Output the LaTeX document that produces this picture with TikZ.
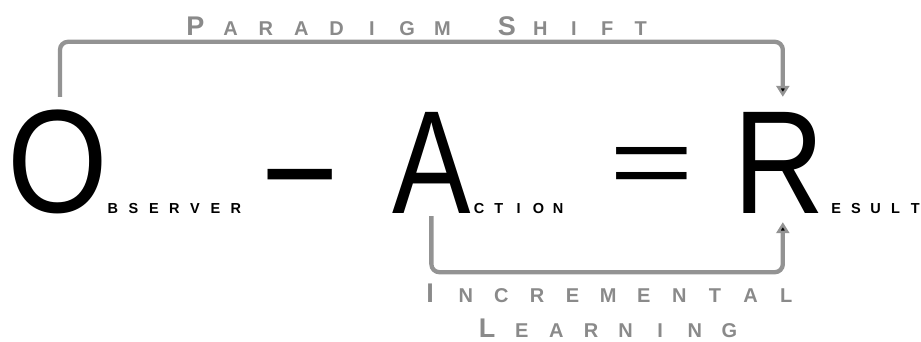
\documentclass[tikz,border=0pt]{standalone}
\usepackage{fontspec}
\setmainfont{Liberation Sans}
\usetikzlibrary{arrows.meta}

\definecolor{linkgray}{RGB}{147,147,147}
\definecolor{labelgray}{RGB}{138,138,138}

% letters set in boxes of equal width
\makeatletter
\newcommand\spread[2]{\def\spread@step{#1}\spread@next#2\@nil}
\def\spread@next#1{\ifx#1\@nil\else\makebox[\spread@step]{#1}\expandafter\spread@next\fi}
\makeatother
\newcommand\tallcap[1]{{\fontsize{27}{27}\selectfont#1}}

\tikzset{
  bigletter/.style={inner sep=0pt, anchor=base west, transform shape, font=\fontsize{147}{147}\selectfont, text height=106pt, text depth=0pt},
  subtext/.style={inner sep=0pt, anchor=base west, font=\fontsize{14.5}{14.5}\selectfont\bfseries},
  tag/.style={inner sep=0pt, anchor=base west, text=labelgray, font=\fontsize{20}{20}\selectfont\bfseries},
  link/.style={draw=linkgray, line width=4.3pt, rounded corners=8pt, -{Triangle[width=13pt,length=11pt,fill=black,line width=2.5pt]}},
}

\begin{document}
\begin{tikzpicture}[x=1pt,y=-1pt]
    \useasboundingbox (0,0) rectangle (921,341);

    % Equation
    \node[bigletter, xscale=0.88] (O) at (7.5,212) {O};
    \node[subtext] (obs) at (102.5,213) {\spread{20.5pt}{BSERVER}};
    \node[bigletter, xscale=0.9] (minus) at (261,223.5) {−};
    \node[bigletter, xscale=0.8] (A) at (392,213) {A};
    \node[subtext] (act) at (469.1,213) {\spread{19.75pt}{CTION}};
    \node[bigletter, font=\fontsize{100}{100}\selectfont, xscale=1.45] (eq) at (609,196.5) {=};
    \node[bigletter, xscale=0.86] (R) at (733,213) {R};
    \node[subtext] (res) at (826.1,213) {\spread{19.75pt}{ESULT}};

    % Labels
    \node[tag] (shift) at (177.5,35) {\spread{35.3pt}{{\tallcap P}ARADIGM}\hspace{30pt}\spread{33.5pt}{{\tallcap S}HIFT}};
    \node[tag] (incr) at (412.2,302) {\spread{35.6pt}{{\tallcap I}NCREMENTAL}};
    \node[tag] (learn) at (469.7,337) {\spread{34.6pt}{{\tallcap L}EARNING}};

    % Connectors
    \draw[link, shorten <=9pt, shorten >=10pt] ([xshift=2pt]O.north) -- ++(0,-64) -| ([xshift=4pt]R.north);
    \draw[link, shorten <=3pt, shorten >=9pt] (A.south) -- ++(0,59) -| ([xshift=4pt]R.south);
\end{tikzpicture}
\end{document}
